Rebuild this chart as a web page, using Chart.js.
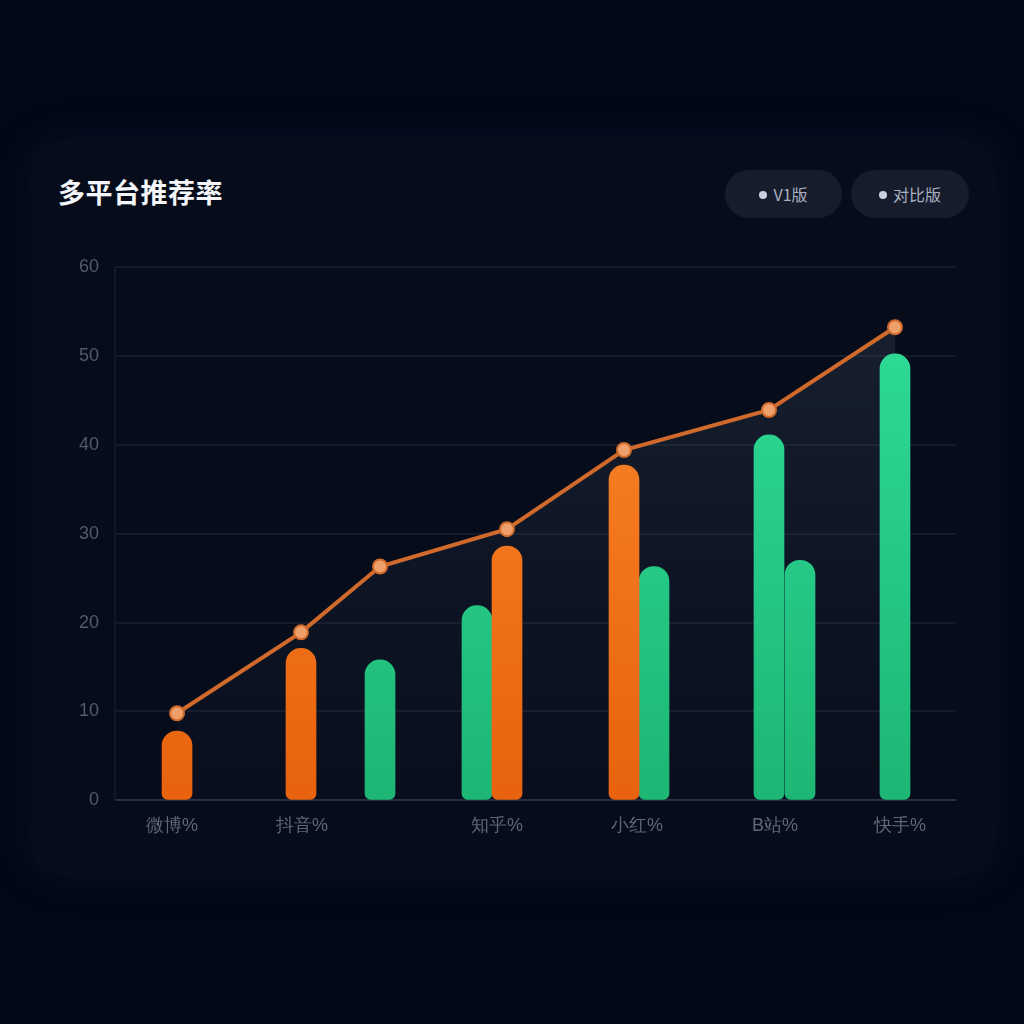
<!DOCTYPE html>
<html>
<head>
<meta charset="utf-8">
<script src="https://cdn.jsdelivr.net/npm/chart.js@4/dist/chart.umd.min.js"></script>
<style>
  html, body { margin:0; padding:0; width:1024px; height:1024px; background:#030817; overflow:hidden;
    font-family:"Noto Sans CJK SC","Noto Sans",sans-serif; }
  #card { position:absolute; left:30px; top:140px; width:965px; height:735px; border-radius:30px;
    background:#070c1b; box-shadow:0 0 40px rgba(20,30,60,0.35); }
  #title { position:absolute; left:58px; top:172px; color:#f4f6fa; font-size:27px; font-weight:700; letter-spacing:0.5px; }
  .pill { position:absolute; top:170px; height:48px; border-radius:24px; background:#161c2c;
    color:#a9b0c0; font-size:16px; line-height:48px; text-align:center; }
  .pill .dot { display:inline-block; width:8px; height:8px; border-radius:4px; background:#c9cfdb; margin-right:6px; vertical-align:2px; }
  #wrap { position:absolute; left:40px; top:240px; width:940px; height:630px; }
</style>
</head>
<body>
<div id="card"></div>
<div id="title">多平台推荐率</div>
<div class="pill" style="left:725px;width:117px;"><span class="dot"></span>V1版</div>
<div class="pill" style="left:851px;width:118px;"><span class="dot"></span>对比版</div>
<div id="wrap"><canvas id="c"></canvas></div>
<script>
// x 位置单位：约 10px / 单位，范围 0–84
const xLabels = ['微博%', '抖音%', '知乎%', '小红%', 'B站%', '快手%'];
const labelPos = [5.7, 18.7, 38.2, 52.2, 66, 78.5];
const yTicks = [0, 10, 20, 30, 40, 50, 60];

const linePos = [6.2, 18.6, 26.5, 39.2, 50.9, 65.4, 78];
const lineVals = [9.8, 18.9, 26.3, 30.5, 39.4, 43.9, 53.2];

const orangePos = [6.2, 18.6, 39.2, 50.9];
const orangeVals = [7.8, 17.1, 28.6, 37.7];

const greenPos = [36.2, 26.5, 53.9, 65.4, 68.5, 78];
const greenVals = [21.9, 15.8, 26.3, 41.1, 27.0, 50.2];

const pts = (xs, ys) => xs.map((x, i) => ({ x: x, y: ys[i] }));

function vGrad(ctx, area, top, bottom) {
    const g = ctx.createLinearGradient(0, area.top, 0, area.bottom);
    g.addColorStop(0, top);
    g.addColorStop(1, bottom);
    return g;
}

new Chart(document.getElementById('c'), {
    data: {
        datasets: [
            {
                type: 'line',
                data: pts(linePos, lineVals),
                borderColor: '#cf6a2c',
                borderWidth: 4,
                tension: 0,
                pointRadius: 7,
                pointBackgroundColor: '#efa06a',
                pointBorderColor: '#cf6a2c',
                pointBorderWidth: 2,
                fill: 'origin',
                backgroundColor: (c) => {
                    const a = c.chart.chartArea;
                    if (!a) return 'rgba(60,80,95,0.2)';
                    return vGrad(c.chart.ctx, a, 'rgba(70,90,105,0.30)', 'rgba(30,40,55,0.10)');
                },
            },
            {
                type: 'bar',
                data: pts(orangePos, orangeVals),
                barThickness: 30,
                grouped: false,
                borderRadius: { topLeft: 15, topRight: 15, bottomLeft: 6, bottomRight: 6 },
                borderSkipped: false,
                backgroundColor: (c) => {
                    const a = c.chart.chartArea;
                    if (!a) return '#f47a1c';
                    return vGrad(c.chart.ctx, a, '#fb8a2c', '#e8620e');
                },
            },
            {
                type: 'bar',
                data: pts(greenPos, greenVals),
                barThickness: 30,
                grouped: false,
                borderRadius: { topLeft: 15, topRight: 15, bottomLeft: 6, bottomRight: 6 },
                borderSkipped: false,
                backgroundColor: (c) => {
                    const a = c.chart.chartArea;
                    if (!a) return '#27cf8c';
                    return vGrad(c.chart.ctx, a, '#30e09a', '#1db675');
                },
            },
        ],
    },
    options: {
        responsive: true,
        maintainAspectRatio: false,
        animation: false,
        layout: { padding: { left: 23, right: 25, top: 22, bottom: 18 } },
        plugins: {
            legend: { display: false },
            tooltip: { enabled: false },
            filler: { drawTime: 'beforeDatasetsDraw' },
        },
        scales: {
            x: {
                type: 'linear',
                min: 0,
                max: 84,
                offset: false,
                afterBuildTicks: (s) => { s.ticks = labelPos.map(v => ({ value: v })); },
                ticks: {
                    autoSkip: false,
                    maxRotation: 0,
                    padding: 15,
                    color: '#5f6778',
                    font: { size: 18 },
                    callback: (v, i) => xLabels[i],
                },
                grid: { display: false, drawTicks: false },
                border: { display: true, color: '#283043', width: 2 },
            },
            y: {
                min: 0,
                max: 60,
                afterBuildTicks: (s) => { s.ticks = yTicks.map(v => ({ value: v })); },
                ticks: { color: '#525a6c', font: { size: 18 }, padding: 16 },
                grid: { color: '#141b2b', lineWidth: 2, drawTicks: false },
                border: { display: true, color: '#121828', width: 2 },
            },
        },
    },
});
</script>
</body>
</html>
